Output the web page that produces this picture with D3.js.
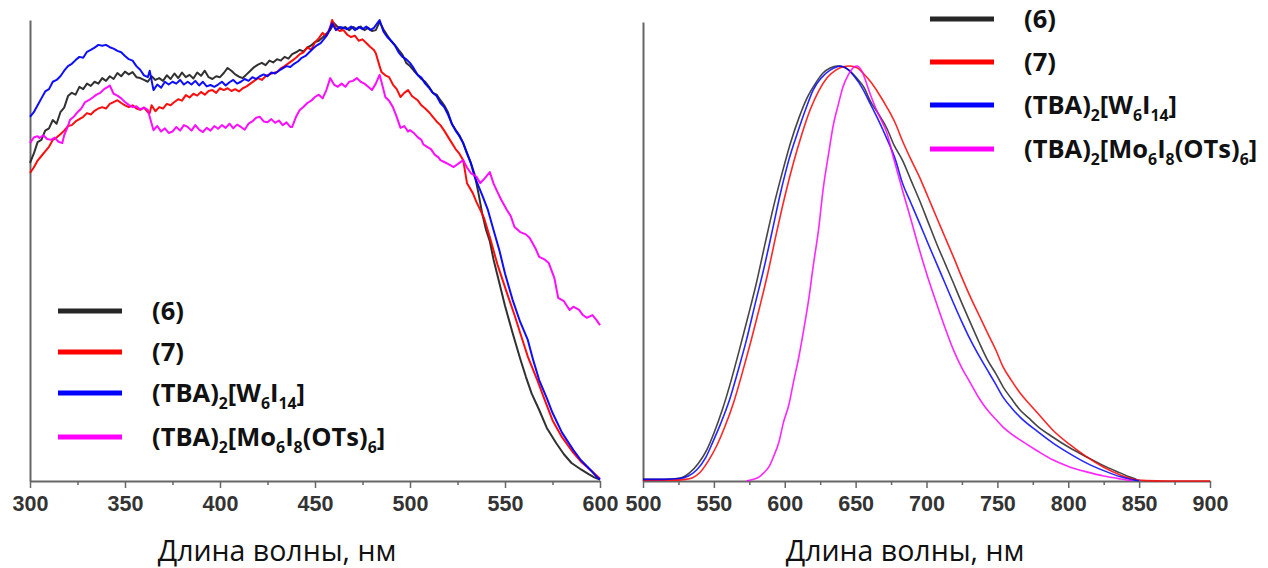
<!DOCTYPE html>
<html><head><meta charset="utf-8">
<script src="https://cdn.jsdelivr.net/npm/d3@7"></script>
<style>
html,body{margin:0;padding:0;background:#fff;}
svg{display:block;}
</style></head>
<body>
<svg id="chart" width="1268" height="568"></svg>
<script>
// ---------- DATA ----------
const seriesNames = ["(6)", "(7)", "(TBA)2[W6I14]", "(TBA)2[Mo6I8(OTs)6]"];
const seriesColors = ["#262626", "#ff0000", "#0000ff", "#ff00ff"];

const absTicks = [300, 350, 400, 450, 500, 550, 600];
const emTicks = [500, 550, 600, 650, 700, 750, 800, 850, 900];
const axisTitle = "Длина волны, нм";

// Absorption (left), normalized
const abs6 = [[300,0.69],[302,0.71],[304,0.735],[306,0.74],[308,0.76],[310,0.765],[312,0.783],[314,0.775],[316,0.80],[318,0.81],[320,0.835],[322,0.842],[324,0.838],[326,0.855],[328,0.85],[330,0.862],[332,0.857],[334,0.866],[336,0.862],[338,0.874],[340,0.868],[342,0.878],[344,0.872],[346,0.885],[348,0.878],[350,0.888],[352,0.882],[354,0.887],[356,0.876],[358,0.874],[360,0.87],[362,0.866],[364,0.878],[366,0.87],[368,0.874],[370,0.868],[372,0.88],[374,0.872],[376,0.884],[378,0.874],[380,0.886],[382,0.876],[384,0.881],[386,0.873],[388,0.886],[390,0.879],[392,0.89],[394,0.876],[396,0.872],[398,0.878],[400,0.876],[402,0.885],[404,0.896],[406,0.89],[408,0.882],[410,0.877],[412,0.874],[414,0.882],[416,0.89],[418,0.898],[420,0.903],[422,0.907],[424,0.902],[426,0.912],[428,0.908],[430,0.915],[432,0.912],[434,0.92],[436,0.916],[438,0.926],[440,0.93],[442,0.935],[444,0.932],[446,0.94],[448,0.945],[450,0.952],[452,0.955],[454,0.962],[456,0.97],[458,0.978],[460,0.993],[462,0.985],[464,0.98],[466,0.985],[468,0.978],[470,0.985],[472,0.98],[474,0.986],[476,0.978],[478,0.983],[480,0.976],[482,0.978],[484,0.996],[486,0.98],[488,0.967],[490,0.955],[492,0.946],[494,0.935],[496,0.925],[498,0.907],[500,0.9],[502,0.89],[504,0.881],[506,0.872],[508,0.866],[510,0.855],[512,0.842],[514,0.838],[516,0.826],[518,0.815],[520,0.8],[522,0.775],[524,0.762],[526,0.75],[528,0.733],[530,0.712],[532,0.69],[534,0.665],[536,0.625],[538,0.58],[540,0.545],[542,0.52],[544,0.48],[547,0.43],[550,0.38],[554,0.321],[558,0.265],[561,0.226],[564,0.19],[568,0.154],[572,0.115],[577,0.082],[581,0.058],[585,0.039],[590,0.025],[594,0.015],[597,0.008],[600,0.003]];

const abs7 = [[300,0.668],[302,0.68],[304,0.695],[306,0.705],[308,0.715],[310,0.725],[312,0.74],[314,0.745],[316,0.752],[318,0.76],[320,0.77],[322,0.772],[324,0.78],[326,0.785],[328,0.79],[330,0.798],[332,0.795],[334,0.803],[336,0.808],[338,0.811],[340,0.808],[342,0.818],[344,0.822],[346,0.826],[348,0.82],[350,0.815],[352,0.811],[354,0.815],[356,0.808],[358,0.805],[360,0.81],[362,0.8],[363,0.798],[364,0.815],[366,0.802],[368,0.811],[370,0.808],[372,0.818],[374,0.815],[376,0.822],[378,0.828],[380,0.825],[382,0.837],[384,0.832],[386,0.84],[388,0.836],[390,0.844],[392,0.838],[394,0.846],[396,0.848],[398,0.842],[400,0.852],[402,0.848],[404,0.852],[406,0.846],[408,0.85],[410,0.845],[412,0.852],[414,0.856],[416,0.862],[418,0.868],[420,0.874],[422,0.87],[424,0.878],[426,0.882],[428,0.885],[430,0.887],[432,0.895],[434,0.9],[436,0.906],[438,0.912],[440,0.918],[442,0.926],[444,0.93],[446,0.941],[448,0.935],[450,0.952],[452,0.96],[454,0.972],[456,0.965],[458,0.985],[459,1.0],[461,0.982],[463,0.976],[465,0.978],[467,0.968],[469,0.963],[471,0.966],[473,0.955],[475,0.958],[477,0.95],[479,0.942],[481,0.935],[482,0.928],[484,0.9],[485,0.887],[487,0.88],[489,0.876],[491,0.86],[493,0.85],[495,0.833],[497,0.842],[499,0.848],[501,0.835],[504,0.826],[506,0.815],[508,0.808],[510,0.8],[512,0.79],[514,0.78],[516,0.772],[518,0.76],[521,0.74],[524,0.72],[526,0.71],[528,0.696],[530,0.646],[533,0.625],[535,0.605],[537,0.588],[539,0.57],[542,0.529],[546,0.47],[551,0.408],[555,0.36],[558,0.321],[562,0.27],[567,0.219],[571,0.175],[575,0.132],[580,0.095],[586,0.061],[590,0.042],[595,0.024],[600,0.005]];

const absW = [[300,0.79],[302,0.8],[304,0.815],[306,0.83],[308,0.845],[310,0.85],[312,0.866],[314,0.87],[316,0.878],[318,0.89],[320,0.9],[322,0.905],[324,0.913],[326,0.92],[328,0.918],[330,0.931],[332,0.935],[334,0.94],[336,0.946],[338,0.944],[340,0.946],[342,0.941],[344,0.938],[346,0.933],[348,0.93],[350,0.922],[352,0.915],[354,0.912],[356,0.9],[358,0.892],[360,0.88],[362,0.876],[363,0.89],[365,0.848],[367,0.86],[369,0.853],[371,0.866],[373,0.86],[375,0.866],[377,0.862],[379,0.87],[381,0.86],[383,0.866],[385,0.86],[387,0.868],[389,0.858],[391,0.866],[393,0.856],[395,0.859],[397,0.855],[399,0.86],[401,0.866],[403,0.858],[405,0.865],[407,0.87],[409,0.862],[411,0.866],[413,0.872],[415,0.868],[417,0.876],[419,0.872],[421,0.878],[423,0.882],[425,0.878],[427,0.886],[429,0.884],[431,0.89],[433,0.895],[435,0.9],[437,0.898],[439,0.905],[441,0.91],[443,0.918],[445,0.922],[447,0.93],[449,0.938],[451,0.945],[453,0.95],[455,0.96],[457,0.972],[459,0.993],[461,0.978],[463,0.985],[465,0.983],[467,0.98],[469,0.986],[471,0.978],[473,0.985],[475,0.98],[477,0.986],[479,0.978],[481,0.983],[484,1.0],[486,0.975],[488,0.963],[490,0.955],[492,0.945],[494,0.93],[496,0.92],[498,0.915],[500,0.907],[502,0.895],[504,0.881],[506,0.875],[508,0.862],[510,0.853],[512,0.842],[514,0.835],[516,0.82],[518,0.811],[520,0.795],[522,0.775],[524,0.76],[526,0.748],[528,0.733],[530,0.71],[532,0.69],[534,0.66],[536,0.64],[538,0.62],[541,0.588],[544,0.544],[547,0.501],[550,0.45],[554,0.393],[558,0.345],[562,0.306],[565,0.26],[568,0.219],[572,0.18],[575,0.148],[580,0.105],[586,0.067],[590,0.045],[595,0.024],[598,0.01],[600,0.003]];

const absMo = [[300,0.733],[302,0.745],[304,0.748],[305,0.744],[307,0.75],[309,0.742],[311,0.74],[313,0.745],[315,0.736],[317,0.733],[318,0.75],[320,0.77],[321,0.783],[323,0.79],[325,0.8],[327,0.808],[329,0.822],[331,0.826],[333,0.832],[335,0.838],[337,0.842],[339,0.85],[341,0.855],[342,0.858],[344,0.84],[346,0.836],[348,0.83],[350,0.822],[352,0.816],[354,0.811],[356,0.813],[358,0.806],[360,0.81],[362,0.805],[363,0.79],[365,0.761],[367,0.77],[369,0.758],[371,0.765],[373,0.755],[375,0.758],[377,0.768],[379,0.76],[381,0.772],[383,0.768],[385,0.76],[387,0.772],[389,0.762],[391,0.757],[393,0.766],[395,0.76],[397,0.77],[399,0.764],[401,0.772],[403,0.766],[405,0.775],[407,0.765],[409,0.773],[411,0.768],[413,0.762],[415,0.775],[417,0.78],[419,0.788],[421,0.79],[423,0.78],[425,0.778],[427,0.785],[429,0.777],[431,0.782],[433,0.772],[435,0.778],[437,0.768],[438,0.768],[440,0.79],[442,0.805],[444,0.812],[446,0.82],[448,0.825],[450,0.833],[452,0.838],[454,0.83],[456,0.848],[458,0.874],[460,0.86],[462,0.855],[464,0.862],[466,0.855],[468,0.866],[470,0.868],[472,0.874],[474,0.866],[476,0.862],[478,0.855],[480,0.848],[482,0.862],[484,0.881],[486,0.85],[487,0.833],[489,0.825],[491,0.811],[493,0.79],[495,0.766],[497,0.77],[499,0.758],[500,0.761],[502,0.755],[504,0.746],[506,0.74],[507,0.73],[509,0.725],[511,0.72],[513,0.708],[515,0.702],[516,0.696],[518,0.692],[520,0.688],[523,0.681],[526,0.69],[528,0.696],[530,0.68],[532,0.668],[535,0.66],[537,0.646],[539,0.655],[542,0.67],[544,0.645],[546,0.627],[548,0.61],[551,0.588],[553,0.575],[555,0.551],[558,0.54],[561,0.535],[563,0.527],[566,0.505],[568,0.486],[571,0.48],[573,0.473],[576,0.44],[578,0.397],[581,0.39],[584,0.371],[586,0.378],[589,0.371],[591,0.36],[593,0.354],[596,0.36],[598,0.35],[600,0.338]];

// Emission (right), normalized
const em6 = [[500,0.004],[510,0.004],[520,0.005],[527,0.008],[533,0.02],[539,0.042],[545,0.075],[550,0.115],[556,0.172],[562,0.24],[568,0.316],[574,0.395],[580,0.477],[586,0.57],[592,0.66],[598,0.74],[604,0.814],[610,0.875],[616,0.925],[622,0.96],[627,0.983],[632,0.995],[637,1.0],[642,0.997],[647,0.985],[651,0.97],[656,0.948],[660,0.918],[666,0.885],[672,0.85],[677,0.81],[683,0.773],[689,0.725],[695,0.677],[701,0.625],[707,0.573],[713,0.525],[719,0.477],[725,0.428],[731,0.381],[737,0.335],[743,0.292],[749,0.258],[754,0.227],[760,0.198],[766,0.171],[772,0.152],[778,0.133],[789,0.106],[801,0.08],[813,0.058],[825,0.037],[837,0.019],[843,0.01],[848,0.004]];

const em7 = [[500,0.002],[520,0.002],[530,0.004],[535,0.008],[540,0.02],[546,0.048],[552,0.085],[558,0.133],[564,0.19],[570,0.26],[576,0.335],[582,0.415],[588,0.5],[594,0.595],[600,0.685],[606,0.765],[612,0.835],[618,0.895],[624,0.94],[630,0.972],[636,0.99],[641,0.998],[646,1.0],[651,0.996],[656,0.98],[661,0.96],[666,0.935],[672,0.901],[678,0.862],[683,0.82],[689,0.775],[695,0.733],[701,0.685],[707,0.636],[713,0.588],[719,0.54],[725,0.49],[731,0.443],[737,0.4],[743,0.357],[749,0.315],[754,0.275],[760,0.242],[766,0.212],[772,0.188],[778,0.165],[789,0.123],[801,0.088],[813,0.058],[825,0.033],[837,0.014],[845,0.005],[855,0.001],[870,0.0],[900,0.0]];

const emW = [[500,0.004],[515,0.004],[526,0.006],[532,0.012],[538,0.027],[544,0.055],[549,0.092],[555,0.14],[561,0.195],[567,0.265],[573,0.34],[579,0.425],[585,0.508],[591,0.6],[597,0.694],[603,0.775],[609,0.839],[615,0.898],[620,0.942],[626,0.972],[632,0.99],[636,0.997],[639,1.0],[644,0.993],[649,0.975],[655,0.945],[660,0.911],[666,0.87],[672,0.825],[678,0.775],[683,0.718],[689,0.67],[695,0.622],[701,0.573],[707,0.525],[713,0.477],[719,0.429],[725,0.383],[731,0.34],[737,0.302],[743,0.267],[749,0.232],[754,0.202],[760,0.176],[766,0.154],[778,0.12],[789,0.092],[801,0.066],[813,0.043],[825,0.025],[837,0.01],[845,0.003],[850,0.001]];

const emMo = [[573,0.0],[578,0.004],[582,0.01],[585,0.019],[589,0.035],[592,0.058],[596,0.095],[599,0.14],[603,0.185],[606,0.236],[610,0.3],[613,0.357],[617,0.44],[620,0.516],[624,0.61],[627,0.701],[631,0.79],[634,0.853],[638,0.91],[641,0.949],[645,0.98],[648,0.995],[651,1.0],[654,0.99],[657,0.965],[660,0.935],[664,0.9],[668,0.87],[672,0.839],[677,0.775],[683,0.701],[689,0.63],[695,0.557],[701,0.49],[707,0.429],[713,0.37],[719,0.316],[725,0.272],[731,0.236],[737,0.2],[743,0.171],[749,0.148],[754,0.13],[760,0.113],[766,0.099],[778,0.073],[789,0.051],[801,0.034],[813,0.022],[825,0.012],[837,0.005],[845,0.001]];

const absSeries = [abs6, abs7, absW, absMo];
const emSeries = [em6, em7, emW, emMo];

// ---------- DRAW ----------
const svg = d3.select("#chart");
svg.append("rect").attr("width",1268).attr("height",568).attr("fill","#fff");

const axisColor = "#666";
const tickFont = "'Liberation Sans', Arial, sans-serif";
const textFont = "'Open Sans', 'Noto Sans', sans-serif";
const legendSize = 25.5;

function legendLabel(sel, name, size) {
  if (name === "(6)" || name === "(7)") { sel.text(name); return; }
  const parts = name.match(/[A-Za-z\(\)\[\]]+|\d+/g);
  let prevSub = false;
  parts.forEach(p => {
    const isSub = /^\d+$/.test(p);
    const t = sel.append("tspan").text(p);
    if (isSub) {
      t.attr("font-size", size*0.62).attr("dy", size*0.28);
    } else if (prevSub) {
      t.attr("dy", -size*0.28);
    }
    prevSub = isSub;
  });
}

function drawPanel(cfg) {
  const x = d3.scaleLinear().domain(cfg.xDomain).range(cfg.xRange);
  const y = d3.scaleLinear().domain(cfg.yDomain).range(cfg.yRange);
  const g = svg.append("g");

  const ya = g.append("g").attr("transform",`translate(${cfg.xRange[0]},0)`)
    .call(d3.axisLeft(y).tickValues([]).tickSizeOuter(0));
  ya.select(".domain").attr("stroke", axisColor).attr("stroke-width", 2);

  const minor = d3.range(cfg.xDomain[0]+25, cfg.xDomain[1], 50);
  const xm = g.append("g").attr("transform",`translate(0,${cfg.yRange[0]})`)
    .call(d3.axisBottom(x).tickValues(minor).tickSize(4).tickSizeOuter(0).tickFormat(""));
  xm.select(".domain").remove();
  xm.selectAll(".tick line").attr("stroke", axisColor).attr("stroke-width", 1.5);

  const xa = g.append("g").attr("transform",`translate(0,${cfg.yRange[0]})`)
    .call(d3.axisBottom(x).tickValues(cfg.ticks).tickSize(7).tickSizeOuter(0).tickPadding(8).tickFormat(d3.format("d")));
  xa.select(".domain").attr("stroke", axisColor).attr("stroke-width", 2);
  xa.selectAll(".tick line").attr("stroke", axisColor).attr("stroke-width", 1.5);
  xa.selectAll(".tick text").attr("font-family", tickFont).attr("font-weight","bold")
    .attr("font-size", 21.5).attr("fill", "#333");

  const line = d3.line().x(d => x(d[0])).y(d => y(d[1])).curve(cfg.curve);
  cfg.series.forEach((s, i) => {
    g.append("path").datum(s).attr("d", line).attr("fill","none")
      .attr("stroke", seriesColors[i]).attr("stroke-width", cfg.lw)
      .attr("stroke-linejoin","round").attr("opacity", cfg.opacity);
  });

  g.append("text").attr("x", cfg.titleX).attr("y", 561).attr("text-anchor","middle")
    .attr("font-family", textFont).attr("font-size", 28.5).attr("fill","#111").text(axisTitle);

  seriesNames.forEach((name, i) => {
    const ly = cfg.legY[i];
    g.append("line").attr("x1", cfg.legX).attr("x2", cfg.legX+64).attr("y1", ly).attr("y2", ly)
      .attr("stroke", seriesColors[i]).attr("stroke-width", 5);
    const t = g.append("text").attr("x", cfg.legX+94).attr("y", ly+9)
      .attr("font-family", textFont).attr("font-weight","bold").attr("font-size", legendSize).attr("fill","#111");
    legendLabel(t, name, legendSize);
  });
}

drawPanel({
  xDomain:[300,600], xRange:[30,600], yDomain:[0,1], yRange:[481,20],
  ticks: absTicks, series: absSeries, curve: d3.curveLinear, lw: 2, opacity: 0.95,
  titleX: 277, legX: 58, legY:[311,352,393,437]
});
drawPanel({
  xDomain:[500,900], xRange:[643,1210], yDomain:[0,1.106], yRange:[481,22],
  ticks: emTicks, series: emSeries, curve: d3.curveMonotoneX, lw: 1.6, opacity: 0.85,
  titleX: 905, legX: 930, legY:[19,62,105,149]
});
</script>
</body></html>
